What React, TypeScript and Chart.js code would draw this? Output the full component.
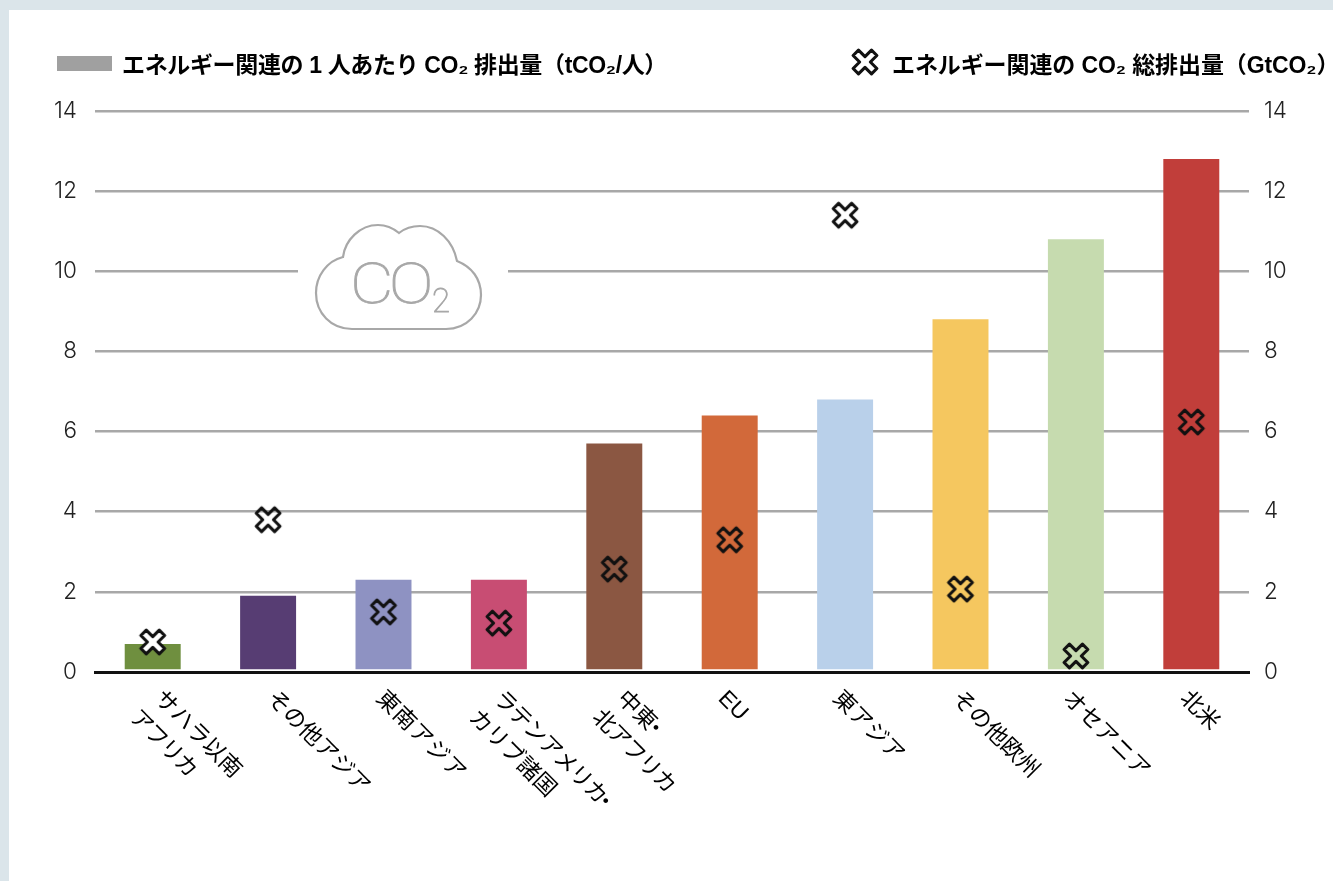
import React, { useEffect, useRef } from "react";
import { Chart, registerables } from "chart.js";

Chart.register(...registerables);

const categories = [
  ["サハラ以南", "アフリカ"],
  ["その他アジア"],
  ["東南アジア"],
  ["ラテンアメリカ・", "カリブ諸国"],
  ["中東・", "北アフリカ"],
  ["EU"],
  ["東アジア"],
  ["その他欧州"],
  ["オセアニア"],
  ["北米"],
];
const perCapita = [0.7, 1.9, 2.3, 2.3, 5.7, 6.4, 6.8, 8.8, 10.8, 12.8];
const totals = [0.75, 3.8, 1.5, 1.22, 2.57, 3.3, 11.4, 2.07, 0.4, 6.24];
const barColors = ["#6f8f3f", "#573d73", "#8e92c2", "#c84d73", "#8b5742", "#d2693a", "#b9d0ea", "#f5c75f", "#c6dbaf", "#c13e3a"];
const yTicks = [0, 2, 4, 6, 8, 10, 12, 14];
const labelPerCapita = "エネルギー関連の 1 人あたり CO₂ 排出量（tCO₂/人）";
const labelTotal = "エネルギー関連の CO₂ 総排出量（GtCO₂）";

const labelNudge = [5, 2, -4, -2, 6, -8, -9, -5, -10, -8];
const lineTracking: Record<string, string> = {
  "アフリカ": "-1.5px",
  "北アフリカ": "-1.2px",
  "ラテンアメリカ・": "-1.3px",
  "東南アジア": "0.8px",
};
const GREY = "#a8a8a8";

function makeCross(fill: string | null): HTMLCanvasElement {
  const c = document.createElement("canvas");
  c.width = 32;
  c.height = 32;
  const g = c.getContext("2d")!;
  g.translate(16, 16);
  g.rotate(Math.PI / 4);
  const L = 13, w = 3.8;
  const pts = [[-w, -L], [w, -L], [w, -w], [L, -w], [L, w], [w, w], [w, L], [-w, L], [-w, w], [-L, w], [-L, -w], [-w, -w]];
  g.beginPath();
  pts.forEach(([x, y], i) => (i ? g.lineTo(x, y) : g.moveTo(x, y)));
  g.closePath();
  if (fill) {
    g.fillStyle = fill;
    g.fill();
  }
  g.lineJoin = "round";
  g.lineWidth = 3.1;
  g.strokeStyle = "#111111";
  g.stroke();
  return c;
}

const decorations = (cross: HTMLCanvasElement) => ({
  id: "decorations",
  beforeDatasetsDraw(chart: any) {
    const ctx = chart.ctx;
    const y10 = chart.scales.y.getPixelForValue(10);
    ctx.save();
    ctx.fillStyle = "#ffffff";
    ctx.fillRect(298, y10 - 3, 210, 6);
    ctx.strokeStyle = GREY;
    ctx.lineWidth = 2.2;
    ctx.beginPath();
    ctx.moveTo(352, 329);
    ctx.lineTo(446, 329);
    ctx.bezierCurveTo(467, 329, 481, 313, 481, 295);
    ctx.bezierCurveTo(481, 279, 472, 267, 457, 261);
    ctx.bezierCurveTo(453, 241, 438, 226, 420, 226);
    ctx.bezierCurveTo(411, 226, 404, 229, 399, 233);
    ctx.bezierCurveTo(393, 228, 386, 225, 378, 225);
    ctx.bezierCurveTo(360, 225, 345, 240, 343, 257);
    ctx.bezierCurveTo(327, 261, 316, 276, 316, 293);
    ctx.bezierCurveTo(316, 313, 331, 329, 352, 329);
    ctx.closePath();
    ctx.stroke();
    ctx.fillStyle = GREY;
    ctx.strokeStyle = GREY;
    ctx.textBaseline = "alphabetic";
    ctx.textAlign = "left";
    ctx.save();
    ctx.translate(350, 303);
    ctx.scale(1.2, 1);
    ctx.font = "100 56px Roboto";
    ctx.letterSpacing = "-4px";
    ctx.lineWidth = 0.8;
    ctx.fillText("CO", 0, 0);
    ctx.strokeText("CO", 0, 0);
    ctx.restore();
    ctx.font = "100 33px Roboto";
    ctx.lineWidth = 0.8;
    ctx.fillText("2", 432, 312);
    ctx.strokeText("2", 432, 312);
    ctx.restore();
  },
  afterDraw(chart: any) {
    const ctx = chart.ctx;
    const x = chart.scales.x;
    ctx.save();
    // legend
    ctx.fillStyle = "#a0a0a0";
    ctx.fillRect(57, 56, 55, 15);
    ctx.drawImage(cross, 865 - 16, 62 - 16);
    ctx.fillStyle = "#000000";
    ctx.textAlign = "left";
    ctx.textBaseline = "middle";
    ctx.font = 'bold 23px "Liberation Sans", "Noto Sans CJK JP"';
    ctx.letterSpacing = "-0.35px";
    ctx.fillText(chart.data.datasets[1].label, 122, 67);
    ctx.letterSpacing = "-0.1px";
    ctx.fillText(chart.data.datasets[0].label, 892, 67);
    // rotated category labels
    ctx.font = '400 22.5px "Liberation Sans", "Noto Sans CJK JP"';
    categories.forEach((lines, i) => {
      const px = x.getPixelForTick(i) + labelNudge[i];
      ctx.save();
      ctx.translate(px, 695);
      ctx.rotate(Math.PI / 4);
      lines.forEach((t, j) => {
        const ly = j * 31;
        const lx = j * -4;
        ctx.letterSpacing = lineTracking[t] ?? "0px";
        if (t.endsWith("・")) {
          const head = t.slice(0, -1);
          ctx.fillText(head, lx, ly);
          ctx.fillText("・", lx + ctx.measureText(head).width - 8, ly);
        } else {
          ctx.fillText(t, lx, ly);
        }
      });
      ctx.restore();
    });
    ctx.restore();
  },
});

export default function App() {
  const ref = useRef<HTMLCanvasElement>(null);
  useEffect(() => {
    document.body.style.margin = "0";
    const hollow = makeCross(null);
    const filled = makeCross("#ffffff");
    const tickStyle = { color: "#222222", font: { family: "Inter", size: 22.5, weight: "300" }, autoSkip: false, stepSize: 2 };
    const chart = new Chart(ref.current!, {
      data: {
        labels: categories,
        datasets: [
          {
            type: "line",
            label: labelTotal,
            data: totals,
            showLine: false,
            pointStyle: (c: any) => (c.dataIndex === 0 ? filled : hollow),
            pointRadius: 14,
            order: 0,
          },
          {
            type: "bar",
            label: labelPerCapita,
            data: perCapita,
            backgroundColor: barColors,
            base: 0.07,
            barPercentage: 0.485,
            categoryPercentage: 1,
            order: 1,
          },
        ],
      } as any,
      options: {
        animation: false,
        responsive: false,
        layout: { padding: { top: 111 } },
        plugins: { legend: { display: false }, tooltip: { enabled: false } },
        scales: {
          x: {
            grid: { display: false, drawTicks: false },
            border: { color: "#111111", width: 3 },
            ticks: { display: false },
            afterFit: (s: any) => { s.height = 209; },
          },
          y: {
            min: yTicks[0],
            max: yTicks[yTicks.length - 1],
            position: "left",
            grid: {
              color: (c: any) => (c.tick.value === 0 ? "rgba(0,0,0,0)" : GREY),
              lineWidth: 2.5,
              drawTicks: false,
            },
            border: { display: false },
            ticks: { ...tickStyle, padding: 18 },
            afterFit: (s: any) => { s.width = 95; },
          },
          y2: {
            min: yTicks[0],
            max: yTicks[yTicks.length - 1],
            position: "right",
            grid: { display: false, drawTicks: false },
            border: { display: false },
            ticks: { ...tickStyle, padding: 15 },
            afterFit: (s: any) => { s.width = 84; },
          },
        },
      } as any,
      plugins: [decorations(hollow)],
    });
    return () => chart.destroy();
  }, []);
  return (
    <div style={{ position: "relative", width: 1333, height: 881, background: "#dbe5ea", overflow: "hidden" }}>
      <div style={{ position: "absolute", left: 9, top: 10, right: 0, bottom: 0, background: "#ffffff" }} />
      <canvas ref={ref} width={1333} height={881} style={{ position: "absolute", left: 0, top: 0, display: "block" }} />
    </div>
  );
}
